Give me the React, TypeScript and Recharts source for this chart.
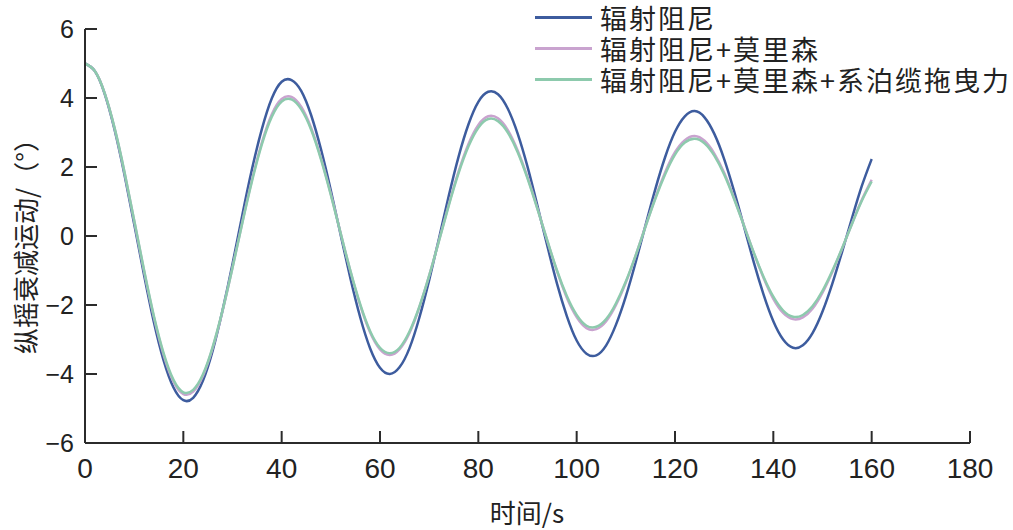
import { LineChart, Line, XAxis, YAxis } from 'recharts'

// ── Data (2 s steps) ──────────────────────────────────────────────────────────

const TIME = [
  0, 2, 4, 6, 8, 10, 12, 14, 16, 18, 20, 22, 24, 26, 28, 30, 32, 34, 36, 38,
  40, 42, 44, 46, 48, 50, 52, 54, 56, 58, 60, 62, 64, 66, 68, 70, 72, 74, 76, 78,
  80, 82, 84, 86, 88, 90, 92, 94, 96, 98, 100, 102, 104, 106, 108, 110, 112, 114, 116, 118,
  120, 122, 124, 126, 128, 130, 132, 134, 136, 138, 140, 142, 144, 146, 148, 150, 152, 154, 156, 158,
  160,
]

// 辐射阻尼
const RADIATION = [
  5.0, 4.78, 4.12, 3.09, 1.8, 0.35, -1.12, -2.49, -3.61, -4.39, -4.76, -4.69, -4.19, -3.31, -2.14, -0.81, 0.61, 1.96, 3.11, 3.99,
  4.47, 4.52, 4.2, 3.5, 2.51, 1.32, 0.03, -1.24, -2.37, -3.26, -3.82, -4.0, -3.8, -3.25, -2.37, -1.28, -0.07, 1.17, 2.31, 3.24,
  3.89, 4.18, 4.11, 3.69, 2.97, 2.01, 0.89, -0.27, -1.38, -2.32, -3.03, -3.41, -3.46, -3.17, -2.57, -1.75, -0.76, 0.31, 1.36, 2.29,
  3.02, 3.47, 3.62, 3.44, 2.96, 2.23, 1.31, 0.29, -0.75, -1.69, -2.47, -3.0, -3.24, -3.17, -2.81, -2.19, -1.38, -0.45, 0.52, 1.45,
  2.23,
]

// 辐射阻尼+莫里森
const MORISON = [
  5.0, 4.78, 4.14, 3.13, 1.86, 0.44, -1.01, -2.35, -3.45, -4.22, -4.58, -4.51, -4.05, -3.23, -2.16, -0.91, 0.4, 1.65, 2.72, 3.53,
  3.97, 4.03, 3.74, 3.13, 2.26, 1.22, 0.08, -1.03, -2.02, -2.8, -3.29, -3.45, -3.28, -2.81, -2.07, -1.15, -0.13, 0.92, 1.88, 2.67,
  3.22, 3.47, 3.41, 3.07, 2.48, 1.71, 0.81, -0.13, -1.02, -1.79, -2.35, -2.67, -2.7, -2.47, -2.0, -1.35, -0.57, 0.28, 1.11, 1.85,
  2.43, 2.78, 2.9, 2.76, 2.39, 1.83, 1.11, 0.32, -0.48, -1.21, -1.82, -2.23, -2.41, -2.36, -2.1, -1.64, -1.04, -0.36, 0.36, 1.05,
  1.63,
]

// 辐射阻尼+莫里森+系泊缆拖曳力
const MOORING = [
  5.0, 4.78, 4.14, 3.14, 1.88, 0.46, -0.98, -2.31, -3.4, -4.17, -4.53, -4.46, -4.01, -3.2, -2.14, -0.92, 0.38, 1.61, 2.67, 3.46,
  3.9, 3.96, 3.67, 3.08, 2.22, 1.19, 0.08, -1.02, -1.99, -2.76, -3.24, -3.4, -3.24, -2.77, -2.05, -1.15, -0.14, 0.89, 1.83, 2.6,
  3.14, 3.39, 3.33, 3.0, 2.43, 1.67, 0.79, -0.12, -1.0, -1.74, -2.29, -2.6, -2.63, -2.41, -1.95, -1.32, -0.56, 0.27, 1.08, 1.79,
  2.36, 2.71, 2.82, 2.69, 2.33, 1.78, 1.08, 0.31, -0.47, -1.18, -1.76, -2.16, -2.34, -2.29, -2.03, -1.59, -1.01, -0.35, 0.35, 1.02,
  1.58,
]

const X_TICKS = [0, 20, 40, 60, 80, 100, 120, 140, 160, 180]
const Y_TICKS = [-6, -4, -2, 0, 2, 4, 6]

const SERIES = [
  { key: 'radiation', name: '辐射阻尼', color: '#3d5c9e' },
  { key: 'morison', name: '辐射阻尼+莫里森', color: '#c9a3cf' },
  { key: 'mooring', name: '辐射阻尼+莫里森+系泊缆拖曳力', color: '#8dcaad' },
]

const rows = TIME.map((t, i) => ({
  t,
  radiation: RADIATION[i],
  morison: MORISON[i],
  mooring: MOORING[i],
}))

// ── Styling ───────────────────────────────────────────────────────────────────

const AXIS = '#2b2b2b'
const NUM_FONT = '"Liberation Sans", Arial, sans-serif'
const CJK_FONT = '"Noto Sans CJK SC", "Noto Sans", sans-serif'

const fmtNum = (n: number) => (n < 0 ? `\u2212${Math.abs(n)}` : `${n}`)

// inward ticks: draw the tick mark ourselves and place the label outside
// eslint-disable-next-line @typescript-eslint/no-explicit-any
function XTick({ x, y, payload }: any) {
  return (
    <g>
      <line x1={x} y1={y} x2={x} y2={y - 12} stroke={AXIS} strokeWidth={2} />
      <text x={x} y={y + 35} textAnchor="middle" fill="#222" fontSize={28} fontFamily={NUM_FONT}>
        {fmtNum(payload.value)}
      </text>
    </g>
  )
}

// eslint-disable-next-line @typescript-eslint/no-explicit-any
function YTick({ x, y, payload }: any) {
  return (
    <g>
      <line x1={x} y1={y} x2={x + 12} y2={y} stroke={AXIS} strokeWidth={2} />
      <text x={x - 11} y={y + 9} textAnchor="end" fill="#222" fontSize={25} fontFamily={NUM_FONT}>
        {fmtNum(payload.value)}
      </text>
    </g>
  )
}

function LegendBox() {
  return (
    <div style={{ position: 'absolute', left: 535, top: 2, fontFamily: CJK_FONT }}>
      {SERIES.map((s) => (
        <div key={s.key} style={{ display: 'flex', alignItems: 'center', height: 31 }}>
          <div style={{ width: 57, height: 3, backgroundColor: s.color }} />
          <span
            style={{
              marginLeft: 8,
              fontSize: 27,
              letterSpacing: 2,
              color: '#222',
              whiteSpace: 'nowrap',
              lineHeight: 1,
            }}
          >
            {s.name}
          </span>
        </div>
      ))}
    </div>
  )
}

// ── Component ─────────────────────────────────────────────────────────────────

export default function App() {
  return (
    <div
      style={{
        position: 'absolute',
        left: 0,
        top: 0,
        width: 1013,
        height: 530,
        background: '#fff',
        overflow: 'hidden',
      }}
    >
      <LineChart
        width={1013}
        height={530}
        data={rows}
        margin={{ top: 29, right: 43, bottom: 27, left: 25 }}
      >
        <XAxis
          dataKey="t"
          type="number"
          domain={[0, 180]}
          ticks={X_TICKS}
          height={60}
          tickSize={0}
          tickMargin={0}
          tickLine={false}
          axisLine={{ stroke: AXIS, strokeWidth: 2 }}
          tick={<XTick />}
          interval={0}
        />
        <YAxis
          type="number"
          domain={[-6, 6]}
          ticks={Y_TICKS}
          width={60}
          tickSize={0}
          tickMargin={0}
          tickLine={false}
          axisLine={{ stroke: AXIS, strokeWidth: 2 }}
          tick={<YTick />}
          interval={0}
        />
        {SERIES.map((s) => (
          <Line
            key={s.key}
            type="natural"
            dataKey={s.key}
            name={s.name}
            stroke={s.color}
            strokeWidth={2.5}
            dot={false}
            isAnimationActive={false}
          />
        ))}
      </LineChart>

      <LegendBox />

      {/* axis titles */}
      <div
        style={{
          position: 'absolute',
          left: 527,
          top: 511,
          transform: 'translate(-50%, -50%)',
          fontFamily: CJK_FONT,
          fontSize: 26,
          color: '#222',
          whiteSpace: 'nowrap',
        }}
      >
        时间/s
      </div>
      <div
        style={{
          position: 'absolute',
          left: 24,
          top: 240,
          transform: 'translate(-50%, -50%) rotate(-90deg)',
          fontFamily: CJK_FONT,
          fontSize: 26,
          color: '#222',
          whiteSpace: 'nowrap',
        }}
      >
        纵摇衰减运动/（°）
      </div>
    </div>
  )
}
